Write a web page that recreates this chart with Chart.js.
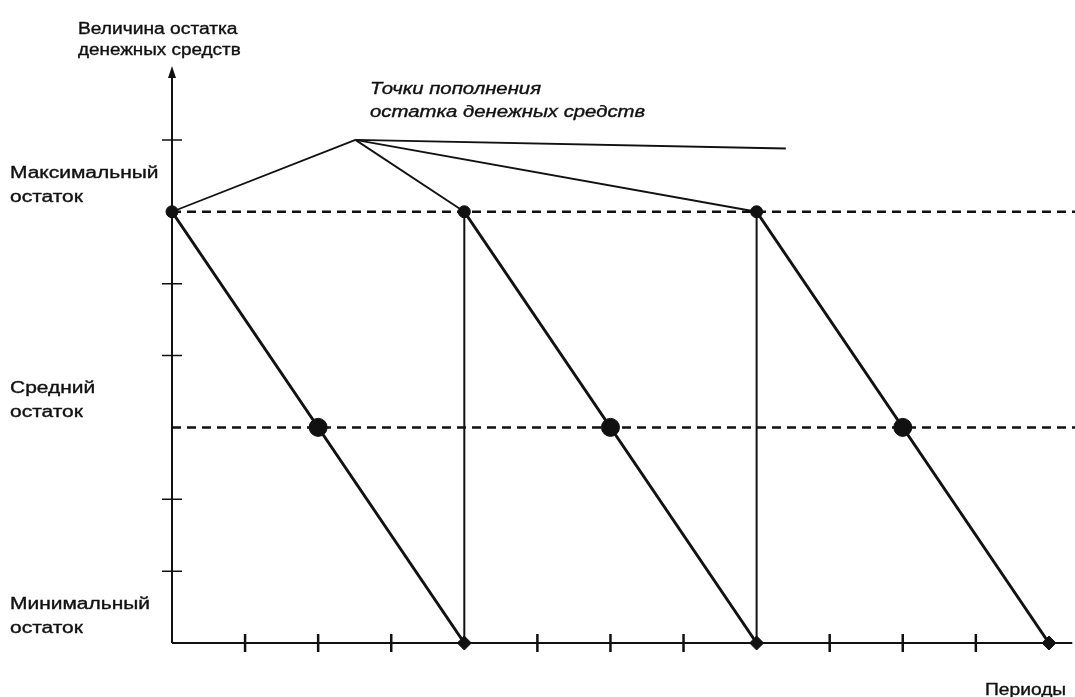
<!DOCTYPE html>
<html>
<head>
<meta charset="utf-8">
<script src="https://cdn.jsdelivr.net/npm/chart.js@4/dist/chart.umd.min.js"></script>
<style>
  html, body { margin: 0; padding: 0; background: #fff; }
</style>
</head>
<body>
<canvas id="myChart" width="1075" height="697"></canvas>
<script>
// уровни остатка (по оси Y) и периоды (по оси X)
const minLevel = 0;
const avgLevel = 3;
const maxLevel = 6;
const yTop = 8;
const xEnd = 12.22;
const dashEnd = 12.4;
const axisEnd = 12.32;

const refillPeriods = [0, 4, 8];        // моменты пополнения
const emptyPeriods = [4, 8, 12];        // моменты, когда остаток = минимум
const avgPeriods = [2, 6, 10];          // пересечение со средним остатком

const periodTicks = [1, 2, 3, 5, 6, 7, 9, 10, 11];
const levelTicks = [1, 2, 4, 5, 7];

// выноска "Точки пополнения..."
const calloutApex = { x: 2.51, y: 7 };
const calloutTail = { x: 8.4, y: 6.88 };

const levelLabels = [
  { y: maxLevel, lines: ["Максимальный", "остаток"] },
  { y: avgLevel, lines: ["Средний", "остаток"] },
  { y: minLevel, lines: ["Минимальный", "остаток"] },
];
const yTitle = ["Величина остатка", "денежных средств"];
const xTitle = "Периоды";
const calloutText = ["Точки пополнения", "остатка денежных средств"];

const ctx = document.querySelector("#myChart");

let datasets = [];

// пунктир макс. и средний остаток
[maxLevel, avgLevel].forEach((lvl) => {
  datasets.push({
    data: [{ x: 0, y: lvl }, { x: dashEnd, y: lvl }],
    borderColor: "#111",
    borderWidth: 2.5,
    borderDash: [9, 6],
    pointRadius: 0,
    showLine: true,
    clip: false,
  });
});

// вертикальные линии пополнения
refillPeriods.slice(1).forEach((p) => {
  datasets.push({
    data: [{ x: p, y: minLevel }, { x: p, y: maxLevel }],
    borderColor: "#111",
    borderWidth: 2,
    pointRadius: 0,
    showLine: true,
    clip: false,
  });
});

// линии расходования (пила)
refillPeriods.forEach((p, i) => {
  datasets.push({
    data: [{ x: p, y: maxLevel }, { x: emptyPeriods[i], y: minLevel }],
    borderColor: "#111",
    borderWidth: 3,
    pointRadius: 0,
    showLine: true,
    clip: false,
  });
});

// выноска
refillPeriods.forEach((p) => {
  datasets.push({
    data: [calloutApex, { x: p, y: maxLevel }],
    borderColor: "#111",
    borderWidth: 1.8,
    pointRadius: 0,
    showLine: true,
    clip: false,
  });
});
datasets.push({
  data: [calloutApex, calloutTail],
  borderColor: "#111",
  borderWidth: 1.8,
  pointRadius: 0,
  showLine: true,
  clip: false,
});

// точки
datasets.push({
  data: refillPeriods.map((p) => ({ x: p, y: maxLevel })),
  pointRadius: 6,
  pointBackgroundColor: "#111",
  pointBorderColor: "#111",
  showLine: false,
  clip: false,
});
datasets.push({
  data: avgPeriods.map((p) => ({ x: p, y: avgLevel })),
  pointRadius: 9,
  pointBackgroundColor: "#111",
  pointBorderColor: "#111",
  showLine: false,
  clip: false,
});
datasets.push({
  data: emptyPeriods.map((p) => ({ x: p, y: minLevel })),
  pointRadius: 7,
  pointStyle: "rectRot",
  pointBackgroundColor: "#111",
  pointBorderColor: "#111",
  showLine: false,
  clip: false,
});

function stretchText(c, text, x, y, sx) {
  c.save();
  c.translate(x, y);
  c.scale(sx, 1);
  c.fillText(text, 0, 0);
  c.strokeText(text, 0, 0);
  c.restore();
}

const axesPlugin = {
  id: "axesPlugin",
  beforeDatasetsDraw(chart) {
    const c = chart.ctx;
    const xs = chart.scales.x;
    const ys = chart.scales.y;
    const x0 = xs.getPixelForValue(0);
    const y0 = ys.getPixelForValue(0);
    c.save();
    c.strokeStyle = "#111";
    c.lineWidth = 2;
    c.beginPath();
    c.moveTo(x0, y0);
    c.lineTo(xs.getPixelForValue(axisEnd), y0);
    c.moveTo(x0, y0);
    c.lineTo(x0, ys.getPixelForValue(yTop) + 6);
    c.stroke();
    // стрелка
    const ya = ys.getPixelForValue(yTop);
    c.fillStyle = "#111";
    c.beginPath();
    c.moveTo(x0, ya - 2);
    c.lineTo(x0 - 4, ya + 10);
    c.lineTo(x0 + 4, ya + 10);
    c.closePath();
    c.fill();
    // деления
    c.lineWidth = 1.5;
    c.beginPath();
    levelTicks.forEach((v) => {
      const py = ys.getPixelForValue(v);
      c.moveTo(x0 - 10, py);
      c.lineTo(x0 + 10, py);
    });
    c.stroke();
    c.lineWidth = 2.5;
    c.beginPath();
    periodTicks.forEach((v) => {
      const px = xs.getPixelForValue(v);
      c.moveTo(px, y0 - 9);
      c.lineTo(px, y0 + 9);
    });
    c.stroke();
    c.restore();
  },
  afterDraw(chart) {
    const c = chart.ctx;
    const ys = chart.scales.y;
    c.save();
    c.fillStyle = "#111";
    c.strokeStyle = "#111";
    c.lineWidth = 0.35;
    c.textBaseline = "alphabetic";
    c.font = "16px 'Liberation Sans', Arial, sans-serif";
    levelLabels.forEach((l) => {
      const py = ys.getPixelForValue(l.y);
      stretchText(c, l.lines[0], 10, py - 34, 1.31);
      stretchText(c, l.lines[1], 10, py - 10, 1.31);
    });
    stretchText(c, yTitle[0], 78, 34, 1.2);
    stretchText(c, yTitle[1], 78, 55, 1.18);
    stretchText(c, xTitle, 985, 695, 1.2);
    c.font = "italic 16px 'Liberation Sans', Arial, sans-serif";
    stretchText(c, calloutText[0], 370, 94, 1.27);
    stretchText(c, calloutText[1], 370, 117, 1.27);
    c.restore();
  },
};

const chart = new Chart(ctx, {
  type: "scatter",
  data: { datasets: datasets },
  options: {
    responsive: false,
    animation: false,
    layout: { padding: { left: 172, top: 68, right: 0, bottom: 54 } },
    plugins: {
      legend: { display: false },
      tooltip: { enabled: false },
    },
    scales: {
      x: { type: "linear", min: 0, max: xEnd, display: false },
      y: { type: "linear", min: 0, max: yTop, display: false },
    },
  },
  plugins: [axesPlugin],
});
</script>
</body>
</html>
